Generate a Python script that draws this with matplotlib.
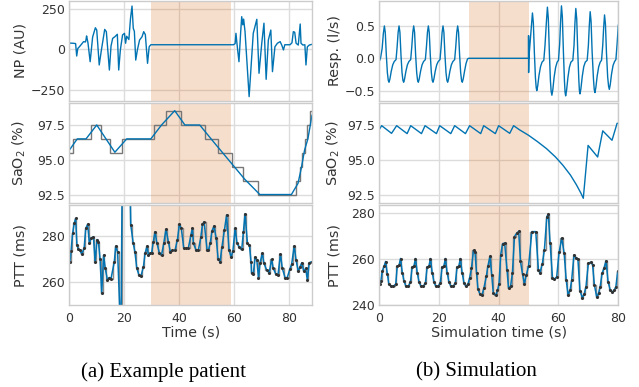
import matplotlib
matplotlib.use("Agg")
from matplotlib import pyplot as plt

# ---------------- data ----------------
# (a) example patient
np_t = [0.0, 0.4, 1.5, 2.4, 2.8, 3.2, 3.8, 4.5, 5.3, 6.0, 6.2, 6.4, 6.9, 7.7, 8.6, 9.6,
        10.1, 11.0, 11.8, 13.0, 13.6, 14.7, 15.3, 15.9, 16.7, 17.6, 18.1, 18.7, 19.5,
        20.2, 20.6, 21.0, 21.8, 22.4, 22.95, 23.4, 23.8, 24.3, 24.9, 25.7, 26.6, 27.2,
        27.8, 28.6, 29.2, 29.8, 59.9, 60.5, 60.8, 61.2, 61.9, 62.5, 62.9, 63.3, 63.6,
        64.1, 65.6, 67.1, 68.4, 69.2, 70.2, 71.0, 71.8, 72.6, 73.5, 74.1, 75.0, 75.9,
        76.9, 77.5, 78.1, 78.6, 80.5, 81.2, 81.7, 82.2, 82.7, 83.5, 84.2, 84.5, 85.2,
        85.9, 86.3, 86.8, 87.5, 88.4]
np_v = [40, 38, 37, 35, -41, 5, 16, 30, 47, 45, 60, 82, 40, -76, 75, 132,
        118, -96, -4, 122, 108, -127, 20, 67, 77, 92, -127, -4, 88,
        98, 37, 80, 60, 190, 265, 129, 110, -66, -4, 57, 77, 108,
        90, -86, 16, 28, 28, 35, 98, 30, -76, 100, 200, 150, 185,
        110, -290, 98, 184, -147, 37, 160, -184, 57, 118, -137, 16, 37,
        47, 25, -4, 28, 28, 40, 108, 105, 37, 26, 155, 37, 26,
        28, -96, 15, 26, 30]

spo2_raw_edges = [0, 1.3, 7.9, 11.5, 14.9, 19.2, 31.0, 35.5, 40.8, 49.6, 54.4, 59.5,
                  63.5, 69.0, 82.8, 84.0, 85.0, 85.8, 86.6, 87.6, 88.6]
spo2_raw = [95.5, 96.5, 97.5, 96.5, 95.5, 96.5, 97.5, 98.5, 97.5, 96.5, 95.5,
            94.5, 93.5, 92.5, 93.5, 94.5, 95.5, 96.5, 97.5, 98.5]
spo2_t = [0.0, 3.0, 6.2, 10.1, 16.7, 21.0, 29.8, 33.7, 38.5, 42.2, 47.6, 53.0,
          58.5, 64.0, 69.5, 81.0, 83.4, 84.6, 85.8, 87.0, 88.5]
spo2_v = [95.66, 96.5, 96.5, 97.5, 95.54, 96.5, 96.5, 97.5, 98.53, 97.5, 97.5, 96.2,
          94.9, 93.6, 92.5, 92.5, 93.3, 94.4, 95.7, 96.5, 98.2]

ptt_t = [0.36, 0.73, 1.3, 1.9, 2.4, 2.9, 3.4, 4.0, 4.6, 5.5, 6.1, 6.8, 7.4, 8.0, 8.9,
         9.5, 10.2, 10.7, 11.3, 11.9, 12.6, 13.2, 14.0, 14.7, 15.3, 16.5, 17.0, 17.7,
         18.9, 19.4, 22.1, 22.5, 23.4, 24.0, 24.7, 25.5, 26.2, 27.1, 27.7, 28.4, 28.9,
         29.5, 30.1, 30.7, 31.3, 32.0, 32.9, 33.7, 34.5, 35.3, 36.2, 36.9, 37.6, 38.6,
         39.5, 40.2, 40.9, 41.8, 42.6, 43.5, 44.4, 44.9, 45.3, 46.3, 47.1, 48.0, 48.6,
         49.2, 50.3, 50.8, 51.4, 52.1, 52.8, 53.6, 54.3, 55.0, 55.7, 56.6, 57.4, 58.3,
         59.0, 59.7, 60.5, 61.2, 62.0, 62.9, 63.5, 64.1, 65.0, 65.7, 66.3, 66.5, 67.1,
         67.8, 68.4, 69.0, 69.6, 70.4, 71.0, 72.0, 72.9, 73.8, 74.4, 75.3, 76.1, 77.0,
         77.7, 78.7, 79.5, 80.4, 81.1, 82.0, 82.7, 83.5, 84.1, 84.8, 85.5, 86.2, 86.8,
         87.5, 88.4]
ptt_v = [268.8, 273.4, 281.0, 285.4, 287.5, 276.0, 274.1, 273.7, 272.1, 274.6, 283.2,
         285.0, 276.7, 278.9, 279.6, 268.8, 278.4, 277.5, 270.2, 255.1, 271.7, 265.9,
         260.9, 262.0, 261.5, 268.8, 275.5, 273.0, 235.0, 310.0, 310.0, 284.6, 276.7,
         273.1, 265.9, 263.0, 262.6, 266.6, 272.4, 275.5, 271.7, 272.4, 272.7, 277.4,
         281.7, 276.9, 272.7, 271.7, 276.7, 282.8, 277.4, 273.1, 273.7, 273.7, 278.4,
         285.0, 283.2, 274.6, 274.6, 274.9, 280.3, 283.2, 276.7, 273.8, 273.8, 279.3,
         285.0, 286.0, 273.8, 273.8, 276.7, 282.2, 284.2, 278.9, 270.2, 268.8, 275.2,
         282.5, 289.0, 273.8, 270.9, 273.5, 283.2, 276.7, 275.2, 274.1, 281.5, 289.4,
         276.7, 276.0, 268.8, 263.8, 263.5, 270.9, 269.5, 261.9, 268.4, 272.4, 268.1,
         265.2, 264.1, 269.8, 265.9, 263.5, 263.0, 272.1, 265.9, 261.9, 262.0, 265.5,
         267.8, 275.5, 269.5, 264.6, 266.6, 268.4, 264.6, 265.9, 260.9, 268.4, 268.8]

# (b) simulation
resp_t = [0.0, 0.5, 1.05, 1.45, 1.8, 2.1, 2.45, 2.8, 3.1, 3.35, 3.65, 4.1, 4.6, 5.1,
          5.7, 6.05, 6.4, 6.7, 7.0, 7.35, 7.7, 8.0, 8.25, 8.55, 9.0, 9.5, 10.0,
          10.6, 10.95, 11.3, 11.6, 11.9, 12.25, 12.6, 12.9, 13.15, 13.45, 13.9, 14.4, 14.9,
          15.5, 15.85, 16.2, 16.5, 16.8, 17.15, 17.5, 17.8, 18.05, 18.35, 18.8, 19.3, 19.8,
          20.4, 20.75, 21.1, 21.4, 21.7, 22.05, 22.4, 22.7, 22.95, 23.25, 23.7, 24.2, 24.7,
          25.3, 25.65, 26.0, 26.3, 26.6, 26.95, 27.3, 27.6, 27.85, 28.15, 28.6, 29.1, 29.6,
          30.0, 50.0, 50.0, 50.02, 50.1, 50.7, 51.3,
          51.6, 51.95, 52.3, 52.55, 52.75, 53.05, 53.5, 54.0, 54.5, 55.1, 55.5, 55.95, 56.3,
          56.6, 56.95, 57.3, 57.55, 57.8, 58.1, 58.55, 59.05, 59.55, 60.0, 60.4, 60.7, 61.0,
          61.3, 61.65, 62.0, 62.2, 62.4, 62.7, 63.15, 63.65, 64.15, 64.8, 65.2, 65.5, 65.8,
          66.1, 66.45, 66.8, 67.0, 67.2, 67.5, 67.95, 68.45, 68.95, 69.6, 70.0, 70.3, 70.6,
          70.9, 71.25, 71.7, 71.95, 72.2, 72.5, 72.95, 73.45, 73.95, 74.4, 74.8, 75.1, 75.4,
          75.7, 76.05, 76.45, 76.75, 77.0, 77.3, 77.75, 78.25, 78.75, 79.2, 79.6, 80.0]
resp_v = [-0.06, 0.0, 0.15, 0.38, 0.50, 0.40, 0.05, -0.22, -0.34, -0.37, -0.32, -0.20, -0.10, -0.05,
          -0.02, 0.17, 0.40, 0.50, 0.40, 0.05, -0.22, -0.34, -0.37, -0.32, -0.20, -0.10, -0.05,
          -0.02, 0.17, 0.40, 0.50, 0.40, 0.05, -0.22, -0.34, -0.37, -0.32, -0.20, -0.10, -0.05,
          -0.02, 0.17, 0.40, 0.50, 0.40, 0.05, -0.22, -0.34, -0.37, -0.32, -0.20, -0.10, -0.05,
          -0.02, 0.17, 0.40, 0.50, 0.40, 0.05, -0.22, -0.34, -0.37, -0.32, -0.20, -0.10, -0.05,
          -0.02, 0.17, 0.40, 0.50, 0.40, 0.05, -0.22, -0.34, -0.37, -0.32, -0.20, -0.08, -0.01,
          0.0, 0.0, 0.35, -0.22, 0.0, 0.35, 0.70,
          0.55, 0.08, -0.30, -0.45, -0.50, -0.43, -0.26, -0.13, -0.06, -0.03, 0.20, 0.55, 0.79,
          0.62, 0.10, -0.34, -0.51, -0.57, -0.49, -0.29, -0.14, -0.06, -0.03, 0.22, 0.56, 0.81,
          0.64, 0.10, -0.35, -0.52, -0.58, -0.50, -0.30, -0.14, -0.06, -0.03, 0.20, 0.54, 0.77,
          0.61, 0.10, -0.33, -0.50, -0.55, -0.47, -0.28, -0.13, -0.06, -0.03, 0.20, 0.50, 0.72,
          0.57, 0.10, -0.32, -0.48, -0.53, -0.45, -0.27, -0.13, -0.06, -0.03, 0.20, 0.47, 0.67,
          0.53, 0.08, -0.29, -0.43, -0.48, -0.41, -0.24, -0.11, -0.05, -0.02, 0.22, 0.51]

sim_spo2_t = [0.0, 0.9, 4.2, 5.9, 9.4, 10.6, 14.2, 15.4, 19.2, 20.3, 24.0, 25.3, 28.9, 30.3,
              34.0, 35.0, 38.9, 40.0, 43.7, 45.0, 47.0, 50.0, 53.0, 56.0, 59.0, 61.5, 64.0,
              66.0, 67.5, 68.3, 69.9, 73.1, 74.8, 77.9, 79.6, 80.0]
sim_spo2_v = [97.15, 97.45, 96.9, 97.45, 96.88, 97.45, 96.88, 97.45, 96.88, 97.45, 96.88, 97.45,
              96.88, 97.45, 96.88, 97.45, 96.88, 97.45, 96.9, 97.45, 97.15, 96.76, 96.3, 95.8,
              95.2, 94.6, 93.9, 93.2, 92.6, 92.23, 96.03, 95.2, 97.08, 96.4, 97.62, 97.62]

sim_ptt_t = [0.2, 0.6, 1.1, 1.7, 2.2, 2.8, 3.3, 4.0, 4.8, 5.6, 6.1, 6.7, 7.2, 7.8, 8.4, 9.0,
             9.8, 10.5, 11.1, 11.7, 12.2, 12.8, 13.4, 14.0, 14.8, 15.5, 16.1, 16.7, 17.2,
             17.8, 18.4, 19.0, 19.8, 20.5, 21.1, 21.7, 22.2, 22.8, 23.4, 24.0, 24.8, 25.5,
             26.1, 26.7, 27.2, 27.8, 28.4, 29.0, 29.7, 30.3, 30.9, 31.6, 32.1, 32.6, 33.1,
             33.8, 34.4, 35.1, 35.9, 36.4, 37.1, 37.7, 38.2, 39.0, 39.6, 40.1, 40.7, 41.3,
             42.0, 42.8, 43.3, 44.0, 44.6, 45.3, 46.0, 46.7, 47.3, 48.0, 48.6, 49.2, 50.0,
             51.1, 52.4, 53.3, 53.8, 54.6, 55.3, 56.1, 56.6, 57.2, 58.0, 58.6, 59.4, 60.2,
             61.1, 61.9, 62.6, 63.2, 63.9, 64.4, 65.2, 65.9, 66.5, 67.2, 68.0, 68.6, 69.2,
             70.0, 70.8, 71.4, 72.0, 72.8, 73.4, 73.9, 74.6, 75.2, 75.9, 76.6, 77.3, 78.0,
             78.7, 79.2, 79.8]
sim_ptt_v = [249.2, 250.3, 254.9, 256.8, 258.9, 253.5, 249.2, 248.2, 248.2, 249.2, 256.8, 257.2,
             260.2, 254.0, 250.3, 248.2, 248.2, 250.0, 256.5, 257.0, 260.2, 254.0, 250.0, 248.3,
             248.3, 249.5, 256.5, 257.0, 260.2, 254.0, 250.0, 248.2, 248.2, 249.8, 256.5, 257.0,
             260.2, 254.0, 250.0, 248.3, 248.3, 249.5, 256.5, 257.0, 260.2, 254.0, 249.8, 248.2,
             249.0, 251.9, 255.9, 263.7, 262.8, 254.0, 246.9, 244.7, 244.3, 247.6, 252.6, 256.9,
             261.1, 252.9, 245.4, 244.3, 246.4, 249.0, 261.9, 266.6, 266.9, 255.4, 247.3, 248.3,
             254.0, 269.7, 271.1, 271.9, 259.0, 253.3, 249.3, 252.9, 256.9, 271.8, 271.8, 255.4,
             254.0, 257.9, 264.0, 278.3, 279.3, 266.8, 252.0, 251.3, 252.2, 262.8, 269.0, 262.4,
             250.8, 244.6, 246.7, 250.8, 261.8, 260.4, 259.8, 246.3, 243.2, 244.9, 248.1, 258.2,
             258.6, 257.5, 248.9, 243.4, 245.3, 247.7, 253.9, 256.0, 259.2, 250.0, 246.7, 245.7,
             246.7, 248.1, 254.6]

apnea_a = (30, 59)
apnea_b = (30, 50)

# ---------------- style ----------------
plt.rcParams['font.family'] = ['DejaVu Sans']
plt.rcParams['axes.edgecolor'] = '#cccccc'
plt.rcParams['axes.linewidth'] = 1.0
plt.rcParams['axes.axisbelow'] = True
plt.rcParams['grid.color'] = '#dcdcdc'
plt.rcParams['grid.linewidth'] = 1.0
plt.rcParams['xtick.major.size'] = 0
plt.rcParams['ytick.major.size'] = 0
plt.rcParams['xtick.color'] = '#333333'
plt.rcParams['ytick.color'] = '#333333'
plt.rcParams['xtick.labelsize'] = 9
plt.rcParams['ytick.labelsize'] = 9
plt.rcParams['xtick.major.pad'] = 4.5
plt.rcParams['ytick.major.pad'] = 3
plt.rcParams['axes.labelsize'] = 10.3
plt.rcParams['axes.labelcolor'] = '#333333'

blue = '#0173b2'
grey = '#8a8a8a'
span_col = '#D55E00'

fig = plt.figure(figsize=(6.39, 3.87), dpi=100)

lx, lw_ = 0.1080, 0.3807
rx, rw_ = 0.5931, 0.3745
rows = [(0.7398, 0.2576), (0.4747, 0.2584), (0.2111, 0.2592)]


def make_ax(x0, w, row, xmax, span):
    b, h = rows[row]
    ax = fig.add_axes([x0, b, w, h])
    ax.set_xlim(0, xmax)
    ax.set_xticks([0, 20, 40, 60, 80])
    ax.grid(True)
    ax.axvspan(span[0], span[1], color=span_col, alpha=0.2, lw=0)
    if row < 2:
        ax.tick_params(labelbottom=False)
    return ax


# (a) patient
ax = make_ax(lx, lw_, 0, 88.6, apnea_a)
ax.plot(np_t, np_v, color=blue, lw=1.0)
ax.set_ylim(-315, 296)
ax.set_yticks([-250, 0, 250])
ax.set_ylabel('NP (AU)')
ax.yaxis.set_label_coords(-0.17, 0.5)

ax = make_ax(lx, lw_, 1, 88.6, apnea_a)
ax.stairs(spo2_raw, spo2_raw_edges, color='#777777', lw=1.0, baseline=None)
ax.plot(spo2_t, spo2_v, color=blue, lw=1.0)
ax.set_ylim(91.87, 99.06)
ax.set_yticks([92.5, 95.0, 97.5])
ax.set_ylabel('SaO$_2$ (%)')
ax.yaxis.set_label_coords(-0.17, 0.5)

ax = make_ax(lx, lw_, 2, 88.6, apnea_a)
ax.plot(ptt_t, ptt_v, color=grey, lw=1.0, drawstyle='steps-mid')
ax.plot(ptt_t, ptt_v, color=blue, lw=1.1, marker='o', ms=1.2,
        mfc='#333333', mec='#333333')
ax.set_ylim(250, 293.3)
ax.set_yticks([260, 280])
ax.set_ylabel('PTT (ms)')
ax.yaxis.set_label_coords(-0.17, 0.5)
ax.set_xlabel('Time (s)')
ax.xaxis.set_label_coords(0.5, -0.205)

# (b) simulation
ax = make_ax(rx, rw_, 0, 80, apnea_b)
ax.plot(resp_t, resp_v, color=blue, lw=1.0)
ax.set_ylim(-0.655, 0.885)
ax.set_yticks([-0.5, 0.0, 0.5])
ax.set_ylabel('Resp. (l/s)')
ax.yaxis.set_label_coords(-0.155, 0.5)

ax = make_ax(rx, rw_, 1, 80, apnea_b)
ax.plot(sim_spo2_t, sim_spo2_v, color=blue, lw=1.0)
ax.set_ylim(91.87, 99.06)
ax.set_yticks([92.5, 95.0, 97.5])
ax.set_ylabel('SaO$_2$ (%)')
ax.yaxis.set_label_coords(-0.155, 0.5)

ax = make_ax(rx, rw_, 2, 80, apnea_b)
ax.plot(sim_ptt_t, sim_ptt_v, color=grey, lw=1.0, drawstyle='steps-mid')
ax.plot(sim_ptt_t, sim_ptt_v, color=blue, lw=1.1, marker='o', ms=1.2,
        mfc='#333333', mec='#333333')
ax.set_ylim(240, 283.3)
ax.set_yticks([240, 260, 280])
ax.set_ylabel('PTT (ms)')
ax.yaxis.set_label_coords(-0.155, 0.5)
ax.set_xlabel('Simulation time (s)')
ax.xaxis.set_label_coords(0.5, -0.205)

fig.text(0.256, 0.039, '(a) Example patient', family='Liberation Serif',
         fontsize=15, ha='center', va='center')
fig.text(0.745, 0.039, '(b) Simulation', family='Liberation Serif',
         fontsize=15, ha='center', va='center')

fig.savefig('out.png', dpi=100)
